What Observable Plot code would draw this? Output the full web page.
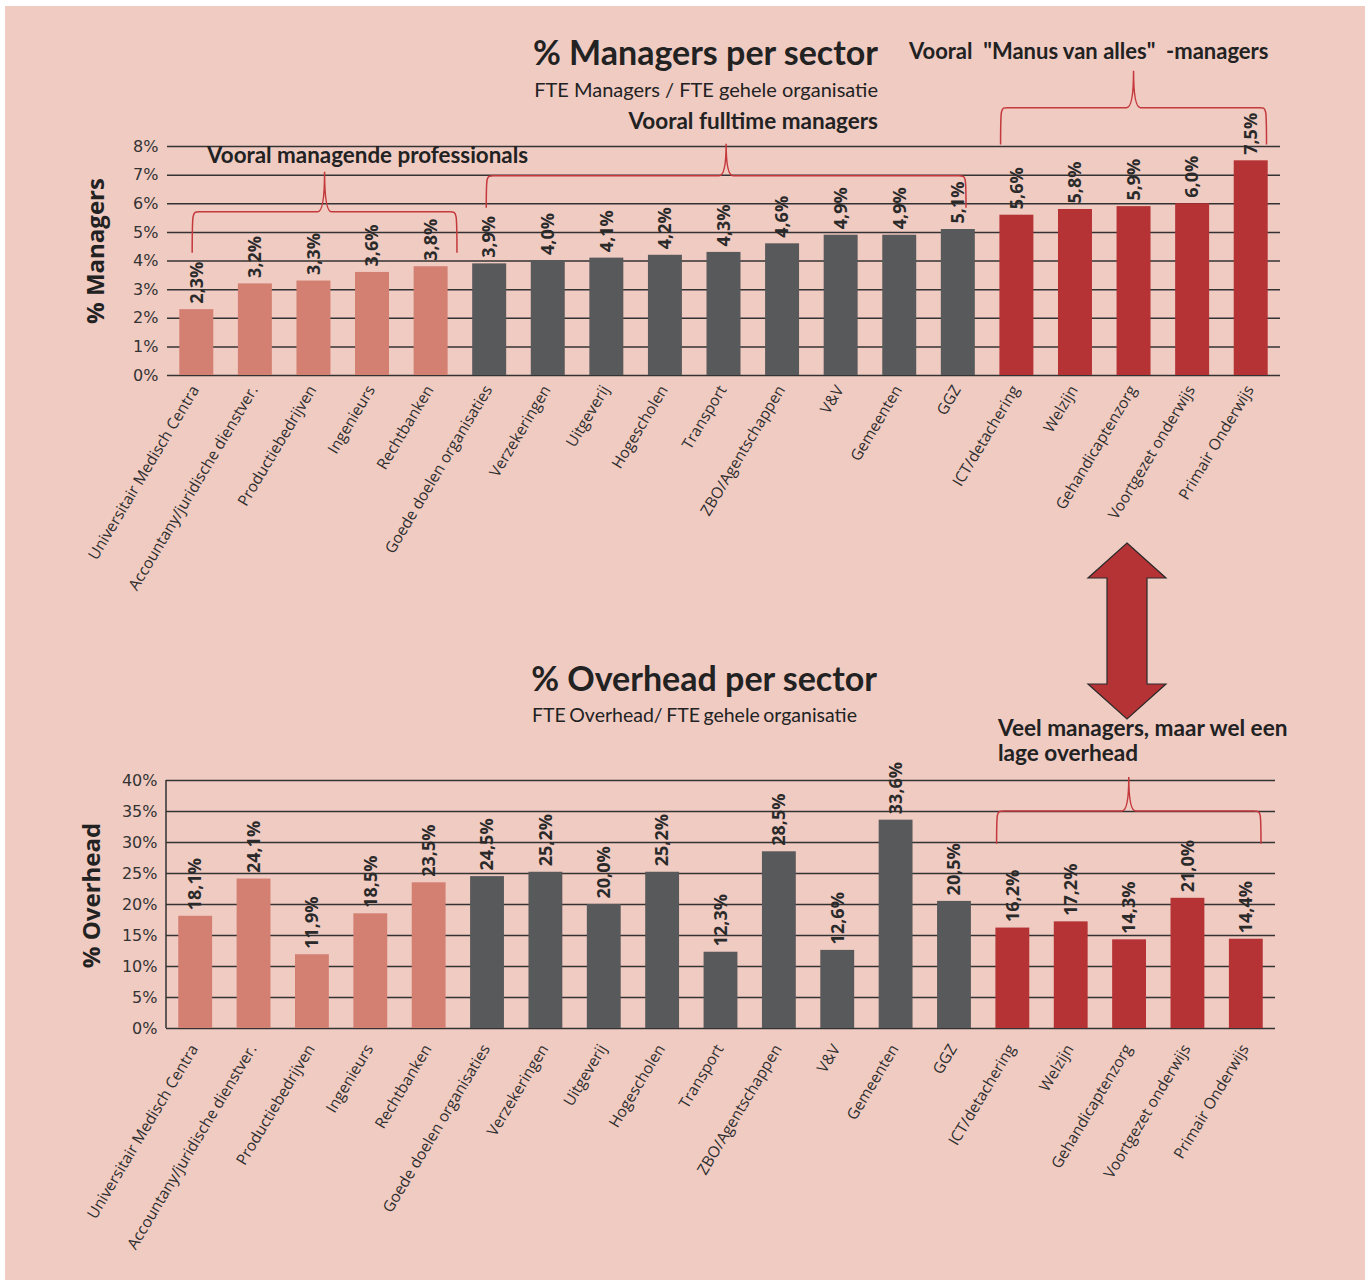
<!DOCTYPE html>
<html><head><meta charset="utf-8">
<script src="https://cdn.jsdelivr.net/npm/d3@7"></script>
<script src="https://cdn.jsdelivr.net/npm/@observablehq/plot@0.6"></script>
<style>
body{margin:0;background:#fff;}
#page{position:relative;width:1371px;height:1284px;overflow:hidden;background:#fff;}
#bg{position:absolute;left:5px;top:6px;width:1360px;height:1274px;background:#f0cbc2;}
.t{position:absolute;white-space:pre;color:#222;font-family:Lato,sans-serif;line-height:1;}
.chart{position:absolute;left:0;}
</style></head><body><div id="page"><div id="bg"></div></div>
<script>
// ---------- data ----------
const sectors = ["Universitair Medisch Centra","Accountany/juridische dienstver.","Productiebedrijven","Ingenieurs","Rechtbanken","Goede doelen organisaties","Verzekeringen","Uitgeverij","Hogescholen","Transport","ZBO/Agentschappen","V&V","Gemeenten","GGZ","ICT/detachering","Welzijn","Gehandicaptenzorg","Voortgezet onderwijs","Primair Onderwijs"];
const managers = [2.3,3.2,3.3,3.6,3.8,3.9,4.0,4.1,4.2,4.3,4.6,4.9,4.9,5.1,5.6,5.8,5.9,6.0,7.5];
const overhead = [18.1,24.1,11.9,18.5,23.5,24.5,25.2,20.0,25.2,12.3,28.5,12.6,33.6,20.5,16.2,17.2,14.3,21.0,14.4];
const groupNames = ["professionals","fulltime","manus"];
const groups = ["professionals","professionals","professionals","professionals","professionals","fulltime","fulltime","fulltime","fulltime","fulltime","fulltime","fulltime","fulltime","fulltime","manus","manus","manus","manus","manus"];
const groupColors = ["#d37f71","#58595b","#b53235"];
const managerTicks = [0,1,2,3,4,5,6,7,8];
const overheadTicks = [0,5,10,15,20,25,30,35,40];

// brace annotations (category span, levels in data units)
const topBraces = [
  {from:"Universitair Medisch Centra", fromOff:-0.07, to:"Rechtbanken", toOff:0.45, yEnd:4.27, yMid:5.7, yTip:7.1},
  {from:"Goede doelen organisaties", fromOff:-0.05, to:"GGZ", toOff:0.14, yEnd:5.84, yMid:6.96, yTip:8.08},
  {from:"ICT/detachering", fromOff:-0.27, to:"Primair Onderwijs", toOff:0.27, yEnd:8.05, yMid:9.34, yTip:10.63}
];
const bottomBraces = [
  {from:"ICT/detachering", fromOff:-0.27, to:"Primair Onderwijs", toOff:0.26, yEnd:29.7, yMid:35.0, yTip:40.5}
];

const topData = sectors.map((s,i)=>({sector:s, value:managers[i], group:groups[i]}));
const bottomData = sectors.map((s,i)=>({sector:s, value:overhead[i], group:groups[i]}));
const fmt = v => v.toFixed(1).replace(".", ",") + "%";

function braceMark(defs){
  return (index, scales) => {
    const {x, y} = scales;
    const bw = x.bandwidth(), st = x.step();
    const g = d3.create("svg:g").attr("fill","none").attr("stroke","#c4393c").attr("stroke-width",1.5);
    for (const b of defs){
      const x1 = x(b.from) + bw/2 + b.fromOff*st;
      const x2 = x(b.to) + bw/2 + b.toOff*st;
      const xm = (x1+x2)/2;
      const ye = y(b.yEnd), yh = y(b.yMid), yt = y(b.yTip);
      const r = 7;
      g.append("path").attr("d",
        `M${x1},${ye}C${x1},${yh} ${x1},${yh} ${x1+r},${yh}L${xm-r},${yh}Q${xm},${yh} ${xm},${yt}Q${xm},${yh} ${xm+r},${yh}L${x2-r},${yh}C${x2},${yh} ${x2},${yh} ${x2},${ye}`);
    }
    return g.node();
  };
}

function chart({data, ticks, yMax, height, mL, mR, mT, mB, yLabel, labelDx, labelDy, catDy, braces, leftAxis}){
  const marks = [
    Plot.ruleY(ticks, {stroke:"#333", strokeWidth:1.5}),
    Plot.barY(data, {x:"sector", y:"value", fill:"group"}),
    Plot.text(data, {x:"sector", y:"value", text:d=>fmt(d.value), rotate:-90, textAnchor:"start", dy:-6,
      fontSize:18, fontWeight:"bold", fontFamily:"Open Sans", fill:"#2a2a2a"}),
    Plot.text(ticks, {y:d=>d, text:d=>d+"%", frameAnchor:"left", textAnchor:"end", dx:-9,
      fontSize:16, fontFamily:"DejaVu Sans", fill:"#333"}),
    Plot.text(sectors, {x:d=>d, text:d=>d, frameAnchor:"bottom", rotate:-59, textAnchor:"end", dx:3, dy:catDy,
      fontSize:15.5, fontFamily:"Open Sans", fill:"#2e2e2e"}),
    Plot.text([yLabel], {text:d=>d, frameAnchor:"left", textAnchor:"middle", dx:labelDx, dy:labelDy, rotate:-90,
      fontSize:24, fontWeight:"bold", fontFamily:"Open Sans", fill:"#222"}),
    braceMark(braces)
  ];
  if (leftAxis) marks.push((index, scales, values, dims) => {
    const l = dims.marginLeft;
    return d3.create("svg:line").attr("x1",l).attr("x2",l).attr("y1",dims.marginTop).attr("y2",dims.height-dims.marginBottom)
      .attr("stroke","#333").attr("stroke-width",1.5).node();
  });
  return Plot.plot({
    width:1371, height, marginLeft:mL, marginRight:mR, marginTop:mT, marginBottom:mB,
    x:{domain:sectors, paddingInner:0.42, paddingOuter:0.21, round:false, axis:null},
    y:{domain:[0,yMax], axis:null},
    color:{domain:groupNames, range:groupColors},
    style:{background:"transparent", overflow:"visible"},
    marks
  });
}

const page = document.getElementById("page");
const top1 = chart({data:topData, ticks:managerTicks, yMax:8, height:620, mL:167, mR:91, mT:146, mB:245,
  yLabel:"% Managers", labelDx:-71, labelDy:-10, catDy:14, braces:topBraces, leftAxis:false});
top1.classList.add("chart"); top1.style.top="0px";
page.appendChild(top1);

const bot = chart({data:bottomData, ticks:overheadTicks, yMax:40, height:644, mL:166, mR:96, mT:140, mB:256,
  yLabel:"% Overhead", labelDx:-74, labelDy:-9, catDy:20, braces:bottomBraces, leftAxis:true});
bot.classList.add("chart"); bot.style.top="640px";
page.appendChild(bot);

// ---------- titles & annotations ----------
function addText(txt, {x, baseline, fs, weight="bold", anchor="start", extra=""}){
  const d = document.createElement("div");
  d.className = "t";
  d.textContent = txt;
  d.style.cssText += `font-size:${fs}px;font-weight:${weight};top:${baseline-0.887*fs}px;left:${x}px;${anchor==="end"?"transform:translateX(-100%);":""}${extra}`;
  page.appendChild(d);
}
addText("% Managers per sector", {x:878, baseline:65, fs:34, anchor:"end"});
addText("FTE Managers / FTE gehele organisatie", {x:878, baseline:97, fs:20, weight:"normal", anchor:"end"});
addText("Vooral fulltime managers", {x:878, baseline:130, fs:22.5, anchor:"end"});
addText("Vooral managende professionals", {x:207, baseline:164, fs:22.4});
addText("Vooral  \"Manus van alles\"  -managers", {x:909, baseline:60, fs:22});
addText("% Overhead per sector", {x:877, baseline:691, fs:34, anchor:"end"});
addText("FTE Overhead/ FTE gehele organisatie", {x:532, baseline:722, fs:19.5, weight:"normal", extra:"word-spacing:-1.5px;"});
addText("Veel managers, maar wel een", {x:998, baseline:737, fs:22.6});
addText("lage overhead", {x:998, baseline:762, fs:22.6});

// ---------- double arrow ----------
const arrow = d3.create("svg").attr("width",1371).attr("height",1284)
  .style("position","absolute").style("left","0").style("top","0").style("pointer-events","none");
const cx = 1127, yTop = 543, yBot = 719, headH = 35, headW = 39, shaftW = 20;
arrow.append("path")
  .attr("d", `M${cx},${yTop}L${cx+headW},${yTop+headH}L${cx+shaftW},${yTop+headH}L${cx+shaftW},${yBot-headH}L${cx+headW},${yBot-headH}L${cx},${yBot}L${cx-headW},${yBot-headH}L${cx-shaftW},${yBot-headH}L${cx-shaftW},${yTop+headH}L${cx-headW},${yTop+headH}Z`)
  .attr("fill","#b53235").attr("stroke","#2a2a2a").attr("stroke-width",1.2).attr("stroke-linejoin","miter");
page.appendChild(arrow.node());
</script></body></html>
